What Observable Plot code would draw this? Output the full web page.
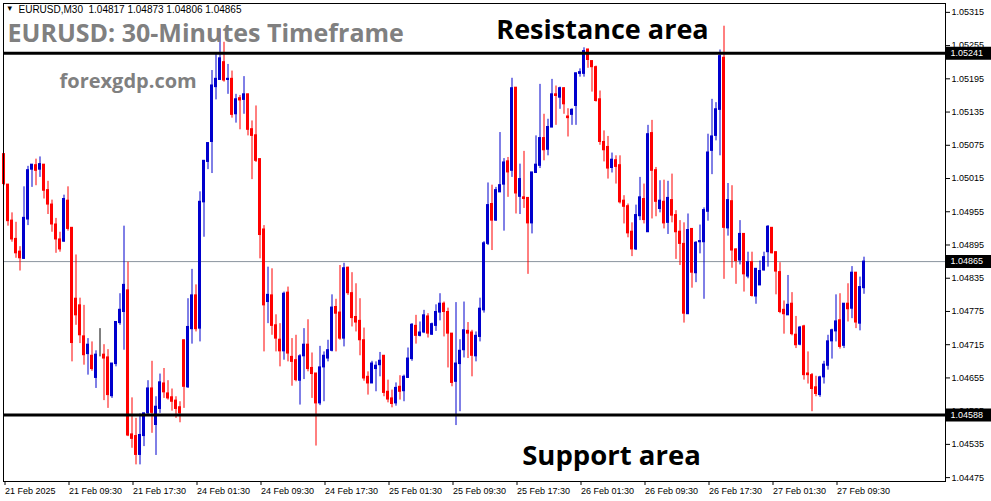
<!DOCTYPE html>
<html><head><meta charset="utf-8">
<script src="https://cdn.jsdelivr.net/npm/d3@7"></script>
<script src="https://cdn.jsdelivr.net/npm/@observablehq/plot@0.6"></script>
<style>
html,body{margin:0;padding:0;background:#fff;overflow:hidden;}
#chart{position:relative;width:991px;height:501px;overflow:hidden;}
</style>
</head><body><div id="chart"></div>
<script>
const symbolHeader = "EURUSD,M30  1.04817 1.04873 1.04806 1.04865";
const titleText = "EURUSD: 30-Minutes Timeframe";
const siteText = "forexgdp.com";
const resistanceText = "Resistance area";
const supportText = "Support area";

const openP = [1.05059,1.05004,1.04939,1.04906,1.04883,1.04870,1.04941,1.05031,1.05039,1.05031,
1.05040,1.04994,1.04968,1.04932,1.04905,1.04901,1.04975,1.04926,1.04798,1.04786,
1.04730,1.04698,1.04695,1.04655,1.04695,1.04697,1.04692,1.04622,1.04680,1.04754,
1.04774,1.04813,1.04553,1.04550,1.04516,1.04550,1.04591,1.04636,1.04570,1.04599,
1.04645,1.04627,1.04620,1.04614,1.04602,1.04723,1.04638,1.04743,1.04804,1.04744,
1.04972,1.05045,1.05081,1.05180,1.05193,1.05225,1.05193,1.05195,1.05131,1.05160,
1.05157,1.05167,1.05104,1.05093,1.05050,1.04923,1.04792,1.04804,1.04750,1.04724,
1.04703,1.04809,1.04693,1.04687,1.04650,1.04694,1.04715,1.04673,1.04663,1.04609,
1.04674,1.04690,1.04704,1.04783,1.04773,1.04726,1.04854,1.04808,1.04765,1.04758,
1.04723,1.04657,1.04645,1.04671,1.04678,1.04695,1.04630,1.04618,1.04609,1.04639,
1.04631,1.04655,1.04689,1.04749,1.04731,1.04737,1.04766,1.04733,1.04749,1.04773,
1.04789,1.04774,1.04735,1.04648,1.04680,1.04705,1.04740,1.04737,1.04694,1.04729,
1.04777,1.04897,1.04969,1.04939,1.04990,1.05004,1.05046,1.05029,1.05179,1.04982,
1.04981,1.04980,1.04934,1.05025,1.05038,1.05088,1.05067,1.05107,1.05167,1.05161,
1.05178,1.05127,1.05130,1.05146,1.05204,1.05204,1.05248,1.05227,1.05216,1.05158,
1.05081,1.05072,1.05034,1.05048,1.05039,1.04975,1.04965,1.04919,1.04887,1.04947,
1.04978,1.04918,1.05097,1.05030,1.04960,1.04973,1.04935,1.04976,1.04949,1.04919,
1.04897,1.04770,1.04924,1.04844,1.04900,1.04900,1.04955,1.05065,1.05092,1.05139,
1.05233,1.04925,1.04974,1.04887,1.04867,1.04915,1.04838,1.04864,1.04802,1.04822,
1.04849,1.04882,1.04926,1.04882,1.04846,1.04778,1.04768,1.04789,1.04733,1.04715,
1.04748,1.04663,1.04660,1.04638,1.04624,1.04656,1.04677,1.04721,1.04739,1.04759,
1.04713,1.04789,1.04780,1.04845,1.04753,1.04817];

const highP = [1.05059,1.05004,1.04953,1.04936,1.04892,1.05000,1.05037,1.05040,1.05050,1.05054,
1.05040,1.05010,1.04976,1.04943,1.04918,1.04985,1.05000,1.04926,1.04877,1.04799,
1.04786,1.04726,1.04720,1.04704,1.04744,1.04715,1.04706,1.04681,1.04756,1.04807,
1.04929,1.04864,1.04619,1.04582,1.04590,1.04591,1.04650,1.04685,1.04621,1.04662,
1.04672,1.04650,1.04635,1.04621,1.04612,1.04723,1.04798,1.04851,1.04823,1.04991,
1.05047,1.05079,1.05210,1.05242,1.05284,1.05261,1.05221,1.05209,1.05167,1.05165,
1.05199,1.05167,1.05119,1.05146,1.05050,1.04930,1.04855,1.04852,1.04769,1.04753,
1.04810,1.04819,1.04726,1.04732,1.04697,1.04744,1.04760,1.04700,1.04663,1.04712,
1.04702,1.04723,1.04805,1.04797,1.04858,1.04862,1.04855,1.04845,1.04825,1.04798,
1.04745,1.04666,1.04685,1.04684,1.04701,1.04695,1.04651,1.04633,1.04646,1.04659,
1.04660,1.04709,1.04753,1.04768,1.04756,1.04777,1.04771,1.04754,1.04787,1.04807,
1.04792,1.04781,1.04735,1.04791,1.04724,1.04792,1.04755,1.04741,1.04738,1.04799,
1.04901,1.05007,1.05003,1.04999,1.05098,1.05051,1.05053,1.05196,1.05179,1.05041,
1.05064,1.04980,1.05026,1.05092,1.05185,1.05131,1.05122,1.05194,1.05182,1.05180,
1.05179,1.05141,1.05141,1.05205,1.05213,1.05251,1.05248,1.05227,1.05218,1.05173,
1.05101,1.05091,1.05061,1.05056,1.05056,1.04984,1.04969,1.04935,1.04967,1.05017,
1.05005,1.05111,1.05120,1.05035,1.05011,1.05012,1.05010,1.05023,1.04957,1.04939,
1.04935,1.04951,1.04924,1.04901,1.04931,1.04962,1.05095,1.05158,1.05152,1.05247,
1.05290,1.05006,1.05002,1.04888,1.04939,1.04915,1.04882,1.04882,1.04852,1.04866,
1.04882,1.04930,1.04926,1.04882,1.04863,1.04794,1.04840,1.04809,1.04766,1.04748,
1.04750,1.04702,1.04663,1.04658,1.04658,1.04685,1.04732,1.04743,1.04805,1.04807,
1.04789,1.04825,1.04856,1.04845,1.04837,1.04873];

const lowP = [1.05002,1.04929,1.04900,1.04871,1.04848,1.04869,1.04930,1.04999,1.05002,1.05017,
1.04978,1.04950,1.04918,1.04880,1.04882,1.04900,1.04920,1.04684,1.04750,1.04717,
1.04678,1.04660,1.04667,1.04636,1.04693,1.04614,1.04600,1.04618,1.04675,1.04750,
1.04705,1.04549,1.04528,1.04498,1.04498,1.04531,1.04588,1.04555,1.04515,1.04591,
1.04618,1.04615,1.04595,1.04582,1.04574,1.04600,1.04636,1.04716,1.04738,1.04720,
1.04909,1.05031,1.05024,1.05157,1.05193,1.05189,1.05167,1.05124,1.05115,1.05103,
1.05131,1.05092,1.05013,1.05044,1.04870,1.04702,1.04753,1.04732,1.04702,1.04675,
1.04687,1.04684,1.04640,1.04648,1.04606,1.04652,1.04666,1.04618,1.04532,1.04605,
1.04612,1.04684,1.04702,1.04702,1.04723,1.04711,1.04804,1.04747,1.04738,1.04695,
1.04649,1.04624,1.04645,1.04630,1.04657,1.04621,1.04610,1.04601,1.04604,1.04615,
1.04612,1.04655,1.04685,1.04716,1.04729,1.04735,1.04727,1.04732,1.04739,1.04758,
1.04729,1.04673,1.04639,1.04569,1.04594,1.04691,1.04690,1.04657,1.04684,1.04720,
1.04772,1.04894,1.04885,1.04938,1.04990,1.04920,1.04981,1.05017,1.04951,1.04950,
1.04961,1.04842,1.04915,1.05025,1.05033,1.05047,1.05056,1.05107,1.05111,1.05140,
1.05131,1.05090,1.05111,1.05111,1.05198,1.05198,1.05214,1.05171,1.05153,1.05075,
1.05045,1.05014,1.05025,1.05005,1.04969,1.04933,1.04908,1.04874,1.04885,1.04939,
1.04933,1.04918,1.04942,1.04946,1.04953,1.04924,1.04914,1.04935,1.04869,1.04858,
1.04754,1.04770,1.04817,1.04827,1.04879,1.04797,1.04938,1.05022,1.05083,1.05056,
1.04833,1.04911,1.04853,1.04824,1.04859,1.04810,1.04834,1.04801,1.04788,1.04822,
1.04848,1.04855,1.04879,1.04805,1.04771,1.04734,1.04768,1.04731,1.04708,1.04713,
1.04651,1.04644,1.04594,1.04621,1.04620,1.04644,1.04669,1.04689,1.04720,1.04707,
1.04708,1.04756,1.04762,1.04744,1.04740,1.04806];

const closeP = [1.05005,1.04938,1.04905,1.04880,1.04871,1.04944,1.05030,1.05040,1.05029,1.05041,
1.04993,1.04968,1.04932,1.04905,1.04887,1.04978,1.04924,1.04718,1.04768,1.04732,
1.04696,1.04715,1.04671,1.04697,1.04695,1.04690,1.04624,1.04681,1.04756,1.04778,
1.04823,1.04551,1.04545,1.04516,1.04552,1.04591,1.04636,1.04592,1.04603,1.04647,
1.04629,1.04618,1.04612,1.04599,1.04591,1.04639,1.04747,1.04804,1.04743,1.04973,
1.05047,1.05079,1.05183,1.05195,1.05232,1.05192,1.05195,1.05130,1.05158,1.05156,
1.05167,1.05103,1.05092,1.05047,1.04913,1.04786,1.04805,1.04749,1.04726,1.04703,
1.04807,1.04699,1.04684,1.04651,1.04694,1.04715,1.04671,1.04662,1.04609,1.04674,
1.04695,1.04705,1.04782,1.04771,1.04726,1.04853,1.04808,1.04763,1.04755,1.04723,
1.04654,1.04645,1.04681,1.04677,1.04686,1.04628,1.04616,1.04608,1.04637,1.04630,
1.04657,1.04690,1.04751,1.04731,1.04737,1.04768,1.04735,1.04752,1.04774,1.04789,
1.04774,1.04735,1.04646,1.04681,1.04704,1.04741,1.04735,1.04695,1.04731,1.04780,
1.04898,1.04967,1.04939,1.04994,1.05003,1.05044,1.05026,1.05178,1.04988,1.05014,
1.04978,1.04934,1.05026,1.05040,1.05088,1.05066,1.05108,1.05167,1.05164,1.05178,
1.05149,1.05124,1.05139,1.05205,1.05207,1.05245,1.05229,1.05216,1.05155,1.05081,
1.05066,1.05033,1.05049,1.05036,1.04972,1.04964,1.04916,1.04887,1.04949,1.04981,
1.04940,1.05095,1.05029,1.04973,1.04975,1.04934,1.04980,1.04948,1.04918,1.04897,
1.04771,1.04922,1.04845,1.04899,1.04902,1.04958,1.05062,1.05091,1.05140,1.05236,
1.04926,1.04976,1.04885,1.04866,1.04915,1.04842,1.04864,1.04803,1.04852,1.04848,
1.04873,1.04928,1.04880,1.04847,1.04774,1.04770,1.04787,1.04734,1.04714,1.04746,
1.04660,1.04660,1.04635,1.04626,1.04656,1.04679,1.04721,1.04741,1.04757,1.04711,
1.04789,1.04779,1.04845,1.04755,1.04819,1.04865];

const xTickIndex = [0,16,32,48,64,80,96,112,128,144,160,176,192,208];
const xTickLabels = ["21 Feb 2025","21 Feb 09:30","21 Feb 17:30","24 Feb 01:30","24 Feb 09:30","24 Feb 17:30","25 Feb 01:30","25 Feb 09:30","25 Feb 17:30","26 Feb 01:30","26 Feb 09:30","26 Feb 17:30","27 Feb 01:30","27 Feb 09:30"];
const yTickValues = [1.04475,1.04535,1.04595,1.04655,1.04715,1.04775,1.04835,1.04895,1.04955,1.05015,1.05075,1.05135,1.05195,1.05255,1.05315];

const resistanceLevel = 1.05241;
const supportLevel = 1.04588;
const lastPrice = 1.04865;
const boxedPrices = [resistanceLevel, lastPrice, supportLevel];

const bullColor = "#0000cd", bearColor = "#ff0000", dojiColor = "#000000";

const candles = openP.map((o, i) => ({i, o, h: highP[i], l: lowP[i], c: closeP[i]}));
const candleColor = d => d.c > d.o ? bullColor : d.c < d.o ? bearColor : dojiColor;

const font = "'Liberation Sans', Arial, sans-serif";
const titleFont = "'Open Sans', 'Noto Sans', sans-serif";
const fmt = d3.format(".5f");

const plot = Plot.plot({
  width: 991, height: 501,
  marginTop: 3, marginLeft: 3, marginRight: 46, marginBottom: 20,
  x: {domain: [-0.125, 235.375], axis: null, label: null},
  y: {domain: [1.04468, 1.05331], axis: null, label: null},
  style: {fontFamily: font, fontSize: "9px", background: "#fff", color: "#000"},
  marks: [
    Plot.ruleY([lastPrice], {stroke: "#8a949e", strokeWidth: 1}),
    Plot.ruleX(candles, {x: "i", y1: "l", y2: "h", stroke: candleColor, strokeWidth: 1}),
    Plot.rect(candles, {x1: d => d.i - 0.25, x2: d => d.i + 0.25, y1: "o", y2: "c", fill: candleColor, stroke: candleColor, strokeWidth: 1}),
    Plot.ruleY([resistanceLevel, supportLevel], {stroke: "#000", strokeWidth: 3}),
    Plot.frame({stroke: "#000", strokeWidth: 1}),
    Plot.axisY(yTickValues, {anchor: "right", label: null, tickSize: 4, tickPadding: 2, tickFormat: fmt, fontSize: 9, fontFamily: font, fill: "#000"}),
    Plot.axisX(xTickIndex, {anchor: "bottom", label: null, tickSize: 4, tickPadding: 2, textAnchor: "start", dx: 1,
      tickFormat: d => xTickLabels[xTickIndex.indexOf(d)], fontSize: 9, fontFamily: font, fill: "#000"}),
    // black price boxes on the right axis
    Plot.ruleY([resistanceLevel, supportLevel], {stroke: "#000", strokeWidth: 3, insetLeft: 938, dx: 4}),
    Plot.ruleY(boxedPrices, {stroke: "#000", strokeWidth: 13, insetLeft: 897, dx: 46}),
    Plot.text(boxedPrices, {y: d => d, text: fmt, frameAnchor: "right", dx: 5, textAnchor: "start", fill: "#fff", fontSize: 9, fontFamily: font}),
    // annotations
    Plot.text(["\u25BE"], {frameAnchor: "top-left", dx: 4, dy: 1, fontSize: 9, fontFamily: "'DejaVu Sans', sans-serif", fill: "#000", textAnchor: "start", lineAnchor: "top"}),
    Plot.text([symbolHeader], {frameAnchor: "top-left", dx: 15, dy: 2, fontSize: 10, fontFamily: font, fill: "#000", textAnchor: "start", lineAnchor: "top"}),
    Plot.text([titleText], {frameAnchor: "top-left", dx: 4, dy: 38, fontSize: 25, fontWeight: "bold", fontFamily: titleFont, fill: "#808080", textAnchor: "start", lineAnchor: "bottom"}),
    Plot.text([siteText], {frameAnchor: "top-left", dx: 56, dy: 84, fontSize: 20, fontWeight: "bold", fontFamily: titleFont, fill: "#808080", textAnchor: "start", lineAnchor: "bottom"}),
    Plot.text([resistanceText], {frameAnchor: "top-left", dx: 599, dy: 35, fontSize: 27, fontWeight: "bold", fontFamily: titleFont, fill: "#000", textAnchor: "middle", lineAnchor: "bottom"}),
    Plot.text([supportText], {frameAnchor: "top-left", dx: 608, dy: 461, fontSize: 27.5, fontWeight: "bold", fontFamily: titleFont, fill: "#000", textAnchor: "middle", lineAnchor: "bottom"})
  ]
});

document.getElementById("chart").appendChild(plot);
</script></body></html>
